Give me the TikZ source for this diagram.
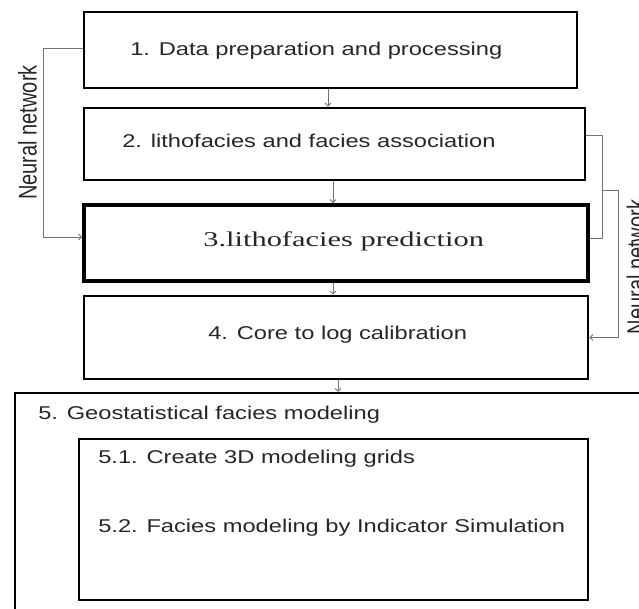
\documentclass[tikz,border=0pt]{standalone}
\usepackage{fontspec}
\setmainfont{Liberation Sans}
\newfontfamily\stepserif{Liberation Serif}
\usetikzlibrary{arrows.meta}

\begin{document}
\begin{tikzpicture}[x=1pt, y=-1pt,
    stagebox/.style={draw=black, line width=2.6pt, inner sep=0pt},
    stagetext/.style={font=\fontsize{18.5}{22}\selectfont, text=black!85, anchor=base west, inner sep=0pt, xscale=1.28},
    flow/.style={draw=black!55, line width=0.9pt},
    flowarrow/.style={flow, -{Straight Barb[length=3pt, width=6pt]}},
    nnlabel/.style={font=\fontsize{20}{24}\selectfont, text=black!85, rotate=90, anchor=base, inner sep=0pt}]

    \useasboundingbox (0,0) rectangle (639,609);
    \clip (0,0) rectangle (639,609);

    % Stages 1 to 4
    \node[stagebox, minimum width=493, minimum height=76] (box1) at (330.5,50) {};
    \node[stagebox, minimum width=501, minimum height=72] (box2) at (334.5,144) {};
    \node[stagebox, line width=3.6pt, minimum width=504, minimum height=76] (box3) at (336,243) {};
    \node[stagebox, minimum width=504, minimum height=83] (box4) at (336,337.5) {};

    \node[stagetext] (t1) at (130,56) {1. Data preparation and processing};
    \node[stagetext] (t2) at (122,148) {2. lithofacies and facies association};
    \node[anchor=base west, inner sep=0pt, xscale=1.45, text=black!85,
          font=\stepserif\fontsize{21}{24}\selectfont] (t3) at (203,247) {3.lithofacies prediction};
    \node[stagetext] (t4) at (208,339) {4. Core to log calibration};

    % Stage 5 with its sub steps
    \node[stagebox, line width=2.2pt, minimum width=640, minimum height=230] (box5) at (335,508) {};
    \node[stagebox, minimum width=509, minimum height=161] (box5in) at (333.5,519.5) {};
    \node[stagetext] (t5) at (38,419) {5. Geostatistical facies modeling};
    \node[stagetext] (t51) at (98,463) {5.1. Create 3D modeling grids};
    \node[stagetext] (t52) at (98,532) {5.2. Facies modeling by Indicator Simulation};

    % main flow
    \foreach \from/\to/\x in {box1/box2/328, box2/box3/333, box3/box4/333, box4/box5/338} {
        \draw[flowarrow] (\x,0 |- \from.south) -- (\x,0 |- \to.north);
    }

    % neural network links
    \draw[flowarrow] ([yshift=2pt]box1.west) -- ++(-39,0) |- ([yshift=6pt]box3.west);
    \node[nnlabel] (nnleft) at (36.5,132.5) {\scalebox{1}[1.28]{Neural network}};

    \draw[flow] ([yshift=9pt]box2.east) -- ++(16,0) coordinate (nnR) |- ([yshift=5pt]box3.east);
    \draw[flowarrow] (nnR |- 0,190) -- ++(16,0) |- (box4.east);
    \node[nnlabel] (nnright) at (645,267) {\scalebox{1}[1.28]{Neural network}};

\end{tikzpicture}
\end{document}
